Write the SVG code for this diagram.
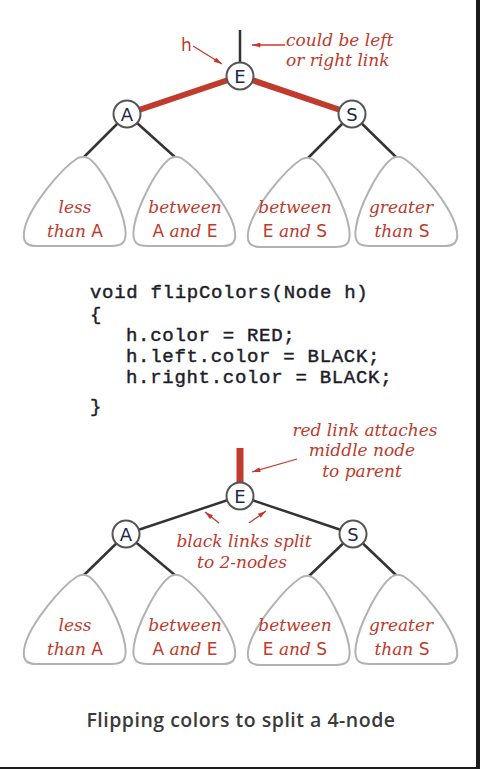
<svg xmlns="http://www.w3.org/2000/svg" width="480" height="769" viewBox="0 0 480 769">
<style>
.bg{fill:#ffffff}
.red{stroke:#c13b2d;stroke-linecap:butt}
.blk{stroke:#333333;stroke-width:2.5;fill:none}
.circ{fill:#ffffff;stroke:#555555;stroke-width:2}
.nl{font-family:"DejaVu Sans","Liberation Sans",sans-serif;font-size:18px;fill:#1d2a4a;text-anchor:middle}
.tri{fill:#ffffff;stroke:#b2b2b2;stroke-width:2;stroke-linejoin:round}
.lbl{font-family:"DejaVu Serif","Liberation Serif",serif;font-style:italic;font-size:17px;fill:#bd3a2c;text-anchor:middle}
.ann{font-family:"DejaVu Serif","Liberation Serif",serif;font-style:italic;font-size:17px;fill:#bd3a2c}
.up{font-family:"DejaVu Sans","Liberation Sans",sans-serif;font-style:normal}
.arr{stroke:#c13b2d;stroke-width:1.3;fill:none}
.code{font-family:"Liberation Mono",monospace;font-size:19px;letter-spacing:0.7px;fill:#1e1e2a;stroke:#1e1e2a;stroke-width:0.45}
.cap{font-family:"Open Sans","Liberation Sans",sans-serif;font-weight:600;font-size:19.5px;letter-spacing:0.5px;fill:#3a3a3a;text-anchor:middle}
</style>
<defs>
<marker id="ah" viewBox="0 0 10 6" refX="10" refY="3" markerWidth="9" markerHeight="5" orient="auto" markerUnits="userSpaceOnUse"><path d="M0,0 L10,3 L0,6 Z" fill="#c13b2d"/></marker>
<path id="tr" d="M -6,1.5 Q 0,-2 6,1.5 C 20,12 39,50 42,70 C 45,88 37,89 28,89 L -46,89 C -56,89 -62,86 -58,70 C -52,48 -22,12 -6,1.5 Z"/>
</defs>
<rect class="bg" x="0" y="0" width="480" height="769"/>
<rect x="476" y="0" width="4" height="769" fill="#1c1c1c"/>
<rect x="0" y="767" width="480" height="2" fill="#1c1c1c"/>

<g id="connectors">
  <line class="blk" x1="240" y1="30" x2="240" y2="64" stroke-width="2"/>
  <line class="red" x1="240" y1="76" x2="127" y2="114" stroke-width="6"/>
  <line class="red" x1="240" y1="76" x2="352" y2="114" stroke-width="6"/>
  <line class="blk" x1="127" y1="114" x2="83" y2="158"/>
  <line class="blk" x1="127" y1="114" x2="176" y2="158"/>
  <line class="blk" x1="352" y1="114" x2="307" y2="159"/>
  <line class="blk" x1="352" y1="114" x2="397" y2="158"/>
  <line class="red" x1="240" y1="448" x2="240" y2="484" stroke-width="7"/>
  <line class="blk" x1="240" y1="496" x2="126" y2="534"/>
  <line class="blk" x1="240" y1="496" x2="353" y2="534"/>
  <line class="blk" x1="126" y1="534" x2="83" y2="576"/>
  <line class="blk" x1="126" y1="534" x2="176" y2="576"/>
  <line class="blk" x1="353" y1="534" x2="308" y2="577"/>
  <line class="blk" x1="353" y1="534" x2="397" y2="576"/>
  <line class="arr" x1="193" y1="46" x2="222" y2="64" marker-end="url(#ah)"/>
  <line class="arr" x1="285" y1="45" x2="252" y2="45" marker-end="url(#ah)"/>
  <line class="arr" x1="297" y1="459" x2="252" y2="472" marker-end="url(#ah)"/>
  <line class="arr" x1="219" y1="523" x2="205" y2="512" marker-end="url(#ah)"/>
  <line class="arr" x1="249" y1="523" x2="266" y2="511" marker-end="url(#ah)"/>
</g>

<g id="top-E"><circle class="circ" cx="240" cy="76" r="13.5"/><text class="nl" x="240" y="82.5">E</text></g>
<g id="top-A"><circle class="circ" cx="127" cy="114" r="13.5"/><text class="nl" x="127" y="120.5">A</text></g>
<g id="top-S"><circle class="circ" cx="352" cy="114" r="13.5"/><text class="nl" x="352" y="120.5">S</text></g>

<g id="top-t1"><use href="#tr" class="tri" transform="translate(83,157)"/><text class="lbl" x="75" y="213">less</text><text class="lbl" x="75" y="237">than <tspan class="up">A</tspan></text></g>
<g id="top-t2"><use href="#tr" class="tri" transform="translate(176,157) scale(-1,1)"/><text class="lbl" x="185" y="213">between</text><text class="lbl" x="185" y="237"><tspan class="up">A</tspan> and <tspan class="up">E</tspan></text></g>
<g id="top-t3"><use href="#tr" class="tri" transform="translate(307,158)"/><text class="lbl" x="295" y="213">between</text><text class="lbl" x="295" y="237"><tspan class="up">E</tspan> and <tspan class="up">S</tspan></text></g>
<g id="top-t4"><use href="#tr" class="tri" transform="translate(398,157) scale(-1,1)"/><text class="lbl" x="401" y="213">greater</text><text class="lbl" x="402" y="237">than <tspan class="up">S</tspan></text></g>

<g id="h-label"><text x="181" y="51" font-family="DejaVu Sans, Liberation Sans, sans-serif" font-size="17" fill="#bd3a2c">h</text></g>
<g id="note-link"><text class="ann" x="286" y="46">could be left</text><text class="ann" x="286" y="66">or right link</text></g>

<g id="code">
  <text class="code" x="90" y="298">void flipColors(Node h)</text>
  <text class="code" x="90" y="320">{</text>
  <text class="code" x="126" y="341">h.color = RED;</text>
  <text class="code" x="126" y="362">h.left.color = BLACK;</text>
  <text class="code" x="126" y="383">h.right.color = BLACK;</text>
  <text class="code" x="90" y="412">}</text>
</g>

<g id="note-red"><text class="lbl" x="365" y="436">red link attaches</text><text class="lbl" x="362" y="456">middle node</text><text class="lbl" x="362" y="477">to parent</text></g>

<g id="bot-E"><circle class="circ" cx="240" cy="496" r="13.5"/><text class="nl" x="240" y="502.5">E</text></g>
<g id="bot-A"><circle class="circ" cx="126" cy="534" r="13.5"/><text class="nl" x="126" y="540.5">A</text></g>
<g id="bot-S"><circle class="circ" cx="353" cy="534" r="13.5"/><text class="nl" x="353" y="540.5">S</text></g>

<g id="note-black"><text class="lbl" x="244" y="547">black links split</text><text class="lbl" x="242" y="568">to 2-nodes</text></g>

<g id="bot-t1"><use href="#tr" class="tri" transform="translate(83,575)"/><text class="lbl" x="75" y="631">less</text><text class="lbl" x="75" y="655">than <tspan class="up">A</tspan></text></g>
<g id="bot-t2"><use href="#tr" class="tri" transform="translate(176,575) scale(-1,1)"/><text class="lbl" x="185" y="631">between</text><text class="lbl" x="185" y="655"><tspan class="up">A</tspan> and <tspan class="up">E</tspan></text></g>
<g id="bot-t3"><use href="#tr" class="tri" transform="translate(307,576)"/><text class="lbl" x="295" y="631">between</text><text class="lbl" x="295" y="655"><tspan class="up">E</tspan> and <tspan class="up">S</tspan></text></g>
<g id="bot-t4"><use href="#tr" class="tri" transform="translate(398,575) scale(-1,1)"/><text class="lbl" x="401" y="631">greater</text><text class="lbl" x="402" y="655">than <tspan class="up">S</tspan></text></g>

<g id="caption"><text class="cap" x="241" y="727">Flipping colors to split a 4-node</text></g>
</svg>
